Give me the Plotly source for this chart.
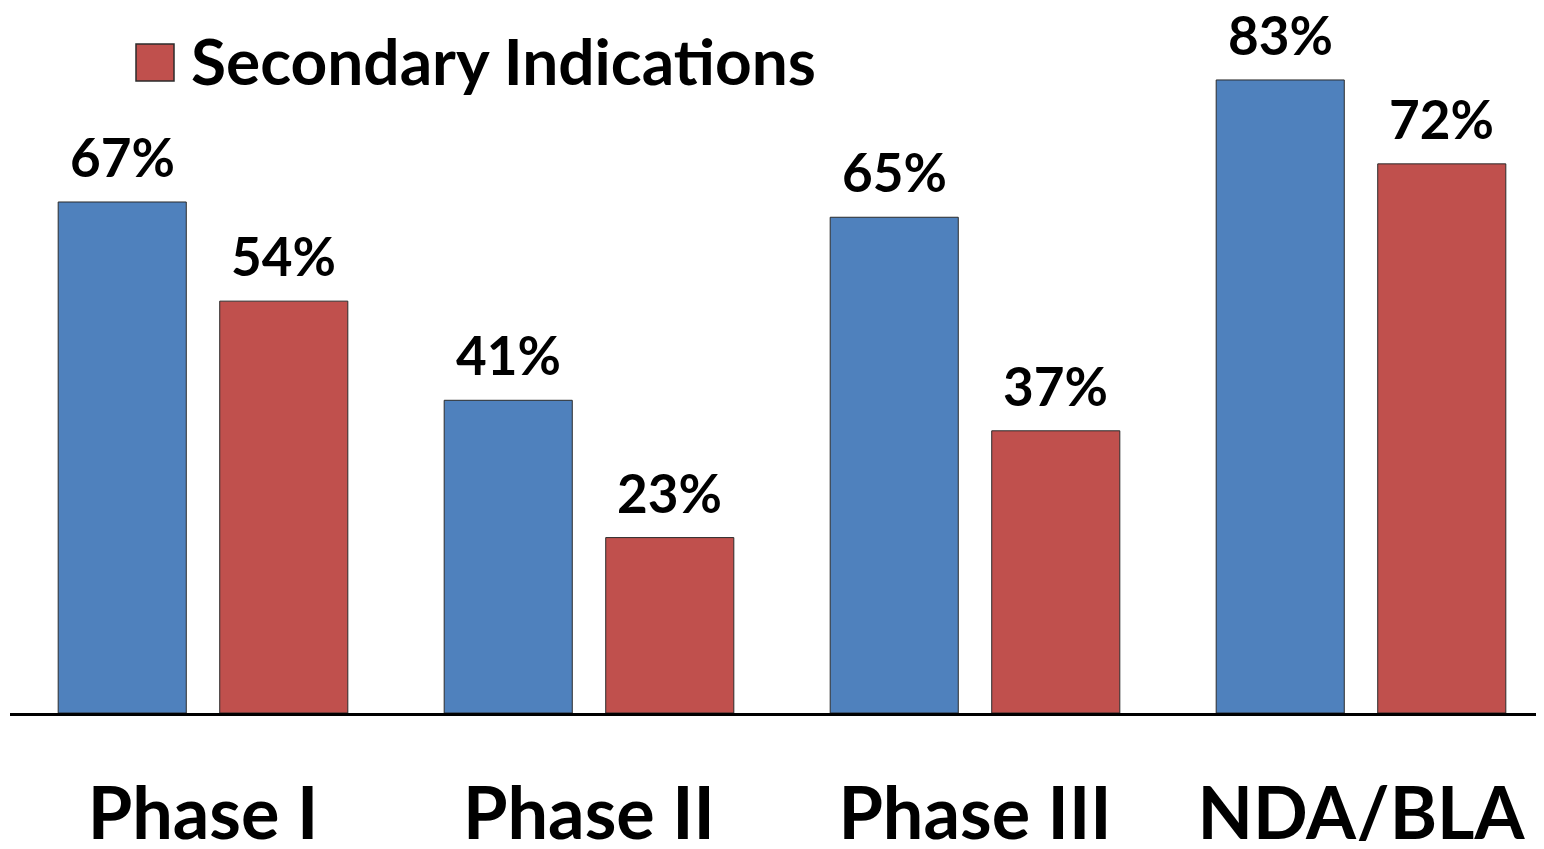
import plotly.graph_objects as go

categories = ["Phase I", "Phase II", "Phase III", "NDA/BLA"]
lead_values = [67, 41, 65, 83]
secondary_values = [54, 23, 37, 72]
legend_label = "Secondary Indications"

BLUE = "#4F81BD"
RED = "#C0504D"
FONT = "Lato"

# layout geometry (px) – page has 8px body margin, keep the figure inside the viewport
OFF = 8
W, H = 1544 - 2 * OFF, 849 - 2 * OFF
ML, MB = 10 - OFF, H - (713 - OFF)
PLOT_W = W - ML
PLOT_H = H - MB
CAT_PX = 386.0
BARGAP = 0.163
SLOT_PX = CAT_PX * (1 - BARGAP) / 2
PX_PER_UNIT = 7.627

fig = go.Figure()
fig.add_trace(go.Bar(
    x=categories, y=lead_values, name="Lead Indications",
    marker=dict(color=BLUE, line=dict(color="#2b2b2b", width=1)),
    showlegend=False,
))
fig.add_trace(go.Bar(
    x=categories, y=secondary_values, name=legend_label,
    marker=dict(color=RED, line=dict(color="#2b2b2b", width=1)),
    showlegend=False,
))

label_font = dict(family=FONT, size=53, color="black", weight="bold")
for series, shift in ((lead_values, -SLOT_PX / 2), (secondary_values, SLOT_PX / 2)):
    for cat, v in zip(categories, series):
        fig.add_annotation(x=cat, y=v, xref="x", yref="y", text=f"{v}%",
                           showarrow=False, xanchor="center", yanchor="bottom",
                           xshift=shift, yshift=12, font=label_font)

# manual legend (large symbol)
def px_x(page_x):
    return (page_x - OFF - ML) / PLOT_W

def px_y(page_y):
    return 1 - (page_y - OFF) / PLOT_H

fig.add_shape(type="rect", xref="paper", yref="paper",
              x0=px_x(136), x1=px_x(174), y0=px_y(81), y1=px_y(44),
              fillcolor=RED, line=dict(color="#2b2b2b", width=1.5))
fig.add_annotation(xref="paper", yref="paper", x=px_x(189), y=px_y(60),
                   xanchor="left", yanchor="middle", showarrow=False,
                   text=legend_label,
                   font=dict(family=FONT, size=64, color="black", weight="bold"))

fig.update_layout(
    width=W, height=H,
    margin=dict(l=ML, r=0, t=0, b=MB),
    paper_bgcolor="white", plot_bgcolor="white",
    barmode="group", bargap=BARGAP, bargroupgap=0.207,
    xaxis=dict(
        range=[-0.5, -0.5 + PLOT_W / CAT_PX], showline=True, linecolor="black", linewidth=3,
        showgrid=False, ticks="", ticklabelstandoff=37, automargin=False,
        tickfont=dict(family=FONT, size=72, color="black", weight="bold"),
    ),
    yaxis=dict(range=[0, PLOT_H / PX_PER_UNIT], visible=False, showgrid=False,
               automargin=False),
)

fig.write_html("out.html")
